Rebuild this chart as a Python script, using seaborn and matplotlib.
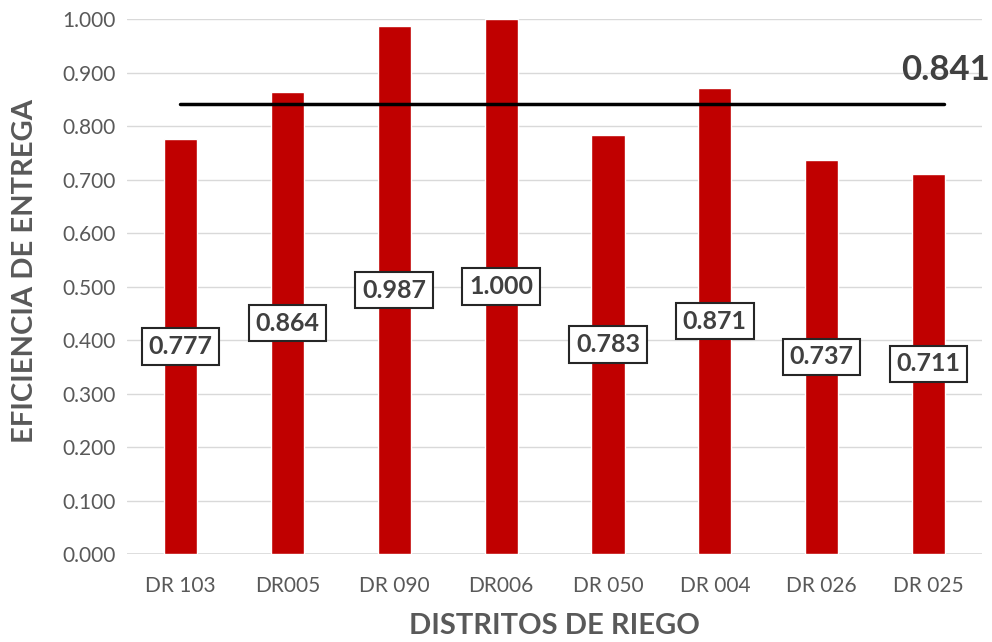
import matplotlib
matplotlib.use("Agg")
import matplotlib.pyplot as plt
import seaborn as sns
import pandas as pd

categories = ["DR 103", "DR005", "DR 090", "DR006", "DR 050", "DR 004", "DR 026", "DR 025"]
values = [0.777, 0.864, 0.987, 1.000, 0.783, 0.871, 0.737, 0.711]
mean_value = 0.841
y_ticks = [0.0, 0.1, 0.2, 0.3, 0.4, 0.5, 0.6, 0.7, 0.8, 0.9, 1.0]

sns.set_theme(style="white")
plt.rcParams['font.family'] = ['Lato', 'DejaVu Sans']

df = pd.DataFrame({"cat": categories, "val": values})

fig = plt.figure(figsize=(9.92, 6.42), dpi=100)
ax = fig.add_axes([0.128, 0.137, 0.862, 0.833])

sns.barplot(data=df, x="cat", y="val", color="#C00000", width=0.31,
            saturation=1, ax=ax, zorder=2)

ax.set_ylim(0, 1.0)
ax.set_xlim(-0.5, len(categories) - 0.5)
ax.set_yticks(y_ticks)
ax.set_yticklabels([f"{t:.3f}" for t in y_ticks])
ax.grid(axis="y", color="#D9D9D9", linewidth=1, zorder=0)
ax.set_axisbelow(True)
for s in ax.spines.values():
    s.set_visible(False)
ax.axhline(0, color="#D9D9D9", linewidth=1.2, zorder=1)

ax.tick_params(axis="both", length=0, labelsize=15, labelcolor="#595959")
ax.tick_params(axis="x", pad=16)
ax.tick_params(axis="y", pad=8)

ax.set_xlabel("DISTRITOS DE RIEGO", fontsize=21, fontweight="bold", color="#595959")
ax.set_ylabel("EFICIENCIA DE ENTREGA", fontsize=21, fontweight="bold", color="#595959")
ax.xaxis.label.set_va("center")
ax.xaxis.set_label_coords(0.5, -0.135)
ax.yaxis.label.set_va("center")
ax.yaxis.label.set_ha("center")
ax.yaxis.set_label_coords(-0.119, 0.53)

# mean line
ax.plot([0, len(categories) - 1 + 0.14], [mean_value, mean_value], color="black", linewidth=2.5, zorder=3)
ax.text(len(categories) - 0.43, mean_value + 0.035, f"{mean_value:.3f}", ha="right", va="bottom",
        fontsize=25, fontweight="bold", color="#404040")

for i, v in enumerate(values):
    ax.text(i, v / 2, f"{v:.3f}", ha="center", va="center", fontsize=18, fontweight="bold",
            color="#404040", zorder=4,
            bbox=dict(boxstyle="square,pad=0.27", facecolor="white", edgecolor="#262626", linewidth=1.5))

fig.savefig("out.png", dpi=100)
